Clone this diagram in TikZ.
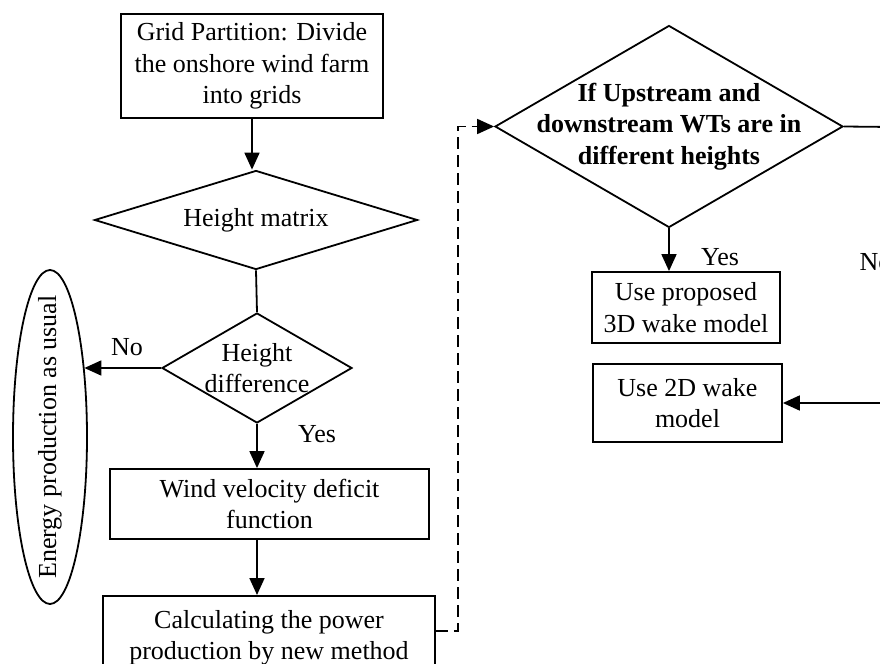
\documentclass[tikz,border=0pt]{standalone}
\usepackage{fontspec}
\setmainfont{Liberation Serif}
\usetikzlibrary{arrows.meta,shapes.geometric}
\newcommand{\flowfont}{\fontsize{13pt}{15.75pt}\selectfont}

\begin{document}
\begin{tikzpicture}[x=1pt,y=-1pt,line width=0.9pt,
  every node/.style={font=\flowfont},
  box/.style={draw,rectangle,align=center,inner sep=0pt},
  decision/.style={draw,diamond,inner sep=0pt},
  arr/.style={-{Triangle[length=8.5pt,width=7.5pt]}}]
  \useasboundingbox (0,0) rectangle (440,332);
  % Left column
  \node[box,minimum width=131pt,minimum height=52pt] (grid) at (126,33) {Grid Partition: Divide\\the onshore wind farm\\into grids};
  \node[decision,aspect=3.26,minimum width=161.5pt,minimum height=49.5pt] (hmat) at (128,110) {Height matrix};
  \node[decision,minimum width=95pt,minimum height=55pt,
    label={[align=center]center:Height\\difference}] (hdiff) at (128.5,184) {};
  \node[draw,ellipse,inner sep=0pt,minimum width=37pt,minimum height=167pt,
    label={[rotate=90]center:Energy production as usual}] (usual) at (25,218.5) {};
  \node[box,minimum width=159.5pt,minimum height=35pt] (wind) at (134.75,252) {Wind velocity deficit\\function};
  \node[box,minimum width=166pt,minimum height=42pt,anchor=north] (calc) at (134.5,297.5) {Calculating the power\\production by new method};
  \node (no1) at (63.5,173.5) {No};
  \node (yes1) at (158.5,217) {Yes};
  % Right column
  \node[decision,minimum width=174pt,minimum height=101pt,
    label={[align=center,font=\flowfont\bfseries]center:If Upstream and\\downstream WTs are in\\different heights}] (updown) at (334.5,63.25) {};
  \node[box,minimum width=94pt,minimum height=35.5pt] (prop) at (343,153.75) {Use proposed\\3D wake model};
  \node[box,minimum width=94.5pt,minimum height=39pt] (twod) at (343.75,201.5) {Use 2D wake\\model};
  \node (yes2) at (360,128.5) {Yes};
  \node[anchor=west] (no2) at (426,131) {No};
  \coordinate (rightedge) at (446,63.5);
  % Connectors
  \draw[arr] (grid.south) -- (grid.south |- hmat.north);
  \draw (hmat.south) -- (hdiff.north);
  \draw[arr] (hdiff.west) -- (hdiff.west -| usual.64);
  \draw[arr] (hdiff.south) -- (hdiff.south |- wind.north);
  \draw[arr] (wind.south -| hdiff) -- (calc.north -| hdiff);
  \draw[arr,dash pattern=on 6pt off 3pt] ([yshift=3.5pt]calc.east) -- ++(11,0) |- (updown.west);
  \draw[arr] (updown.south) -- (updown.south |- prop.north);
  \draw (updown.east) -- (rightedge);
  \draw[arr] (twod.east -| rightedge) -- (twod.east);
\end{tikzpicture}
\end{document}
